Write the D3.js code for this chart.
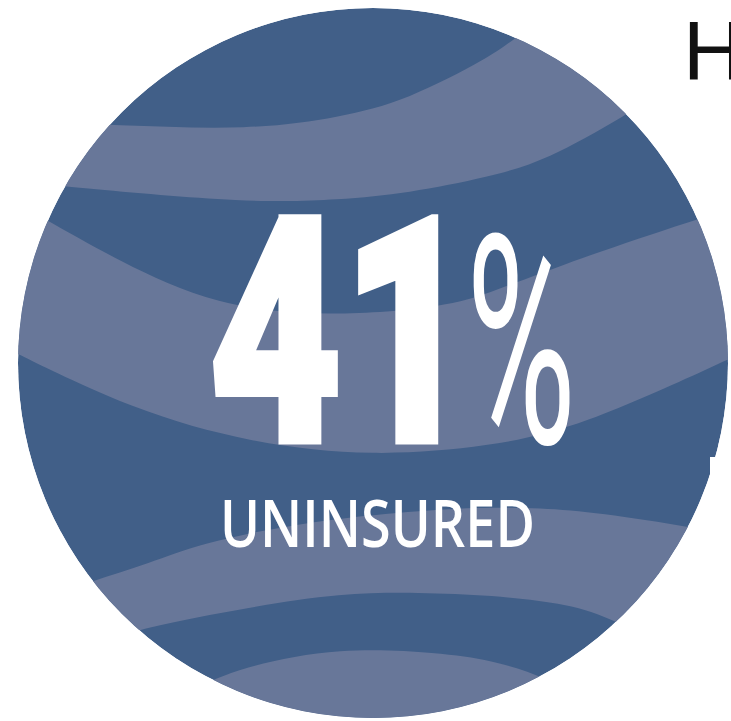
<!DOCTYPE html>
<html>
<head>
<meta charset="utf-8">
<script src="https://cdn.jsdelivr.net/npm/d3@7"></script>
<style>
  html, body { margin: 0; padding: 0; background: #ffffff; }
  svg { display: block; }
</style>
</head>
<body>
<svg id="chart" width="731" height="721"></svg>
<script>
// ---- data (circle-relative units: 0..100 across the disc's bounding box) ----
const headline = "41";
const headlineUnit = "%";
const label = "UNINSURED";
const sideTitle = "H";

// stripe boundaries (top to bottom), each a wavy line across the disc
const boundaryA = [[-2.5,15.9],[14.1,16.5],[32.7,17.2],[45.4,15.4],[54.8,13.0],[66.5,6.9],[69.7,4.5],[76.3,-0.4],[82.0,-5.4]];
const boundaryB = [[-2.5,24.2],[7.3,25.2],[32.7,27.5],[45.4,27.0],[54.8,26.1],[66.5,23.8],[74.5,21.4],[85.2,15.4],[94.6,9.4]];
const boundaryC = [[-2.5,26.2],[4.5,30.1],[13.9,35.5],[28.0,42.1],[43.9,43.5],[60.4,42.1],[66.5,40.1],[79.2,35.2],[95.1,29.9],[104.5,27.0]];
const boundaryD = [[-5.4,46.1],[0.3,48.9],[16.2,56.6],[32.7,61.3],[50.0,63.2],[66.5,61.8],[79.2,59.0],[98.9,50.0],[104.5,47.5]];
const boundaryE = [[3.1,83.4],[10.1,80.8],[18.6,78.2],[25.6,75.4],[39.7,72.5],[53.8,71.0],[65.1,70.3],[73.5,70.4],[82.0,71.1],[94.6,73.1],[104.5,74.9]];
const boundaryF = [[8.7,90.4],[17.6,87.2],[32.7,84.4],[45.4,82.4],[56.6,82.3],[66.5,82.7],[77.7,83.9],[84.1,86.2],[91.8,90.4]];
const boundaryG = [[18.6,100.3],[24.2,96.1],[31.3,92.8],[45.4,90.0],[59.4,90.8],[66.5,91.8],[74.5,94.2],[82.0,98.9]];
const boundaryBottom = [[82.0,106],[18.6,106]];

// light bands: pairs of [upper boundary, lower boundary]
const lightBands = [
  [boundaryA, boundaryB],
  [boundaryC, boundaryD],
  [boundaryE, boundaryF],
  [boundaryG, null]
];

const colors = { dark: "#415f88", light: "#687799", text: "#ffffff", title: "#111111" };

// ---- drawing ----
const svg = d3.select("#chart");
const x = d3.scaleLinear().domain([0, 100]).range([18, 728]);
const y = d3.scaleLinear().domain([0, 100]).range([8, 718]);
const r = (x(100) - x(0)) / 2;

const defs = svg.append("defs");
defs.append("clipPath").attr("id", "disc")
  .append("circle").attr("cx", x(50)).attr("cy", y(50)).attr("r", r);

const g = svg.append("g").attr("clip-path", "url(#disc)");
g.append("circle").attr("cx", x(50)).attr("cy", y(50)).attr("r", r).attr("fill", colors.dark);

const line = d3.line().x(d => x(d[0])).y(d => y(d[1])).curve(d3.curveBasis);

lightBands.forEach(([upper, lower]) => {
  const top = line(upper);
  let bottom;
  if (lower) {
    bottom = line(lower.slice().reverse());
  } else {
    bottom = d3.line().x(d => x(d[0])).y(d => y(d[1]))(boundaryBottom);
  }
  const d = top + "L" + bottom.slice(1) + "Z";
  g.append("path").attr("d", d).attr("fill", colors.light);
});

// big number
svg.append("text")
  .attr("x", 209).attr("y", 441)
  .attr("font-family", "Roboto, 'Liberation Sans', sans-serif")
  .attr("font-weight", 900)
  .attr("font-size", 314)
  .attr("textLength", 266)
  .attr("lengthAdjust", "spacingAndGlyphs")
  .attr("fill", colors.text)
  .attr("stroke", colors.text)
  .attr("stroke-width", 7)
  .attr("stroke-linejoin", "miter")
  .text(headline);

svg.append("text")
  .attr("x", 466).attr("y", 443)
  .attr("font-family", "Roboto, 'Liberation Sans', sans-serif")
  .attr("font-weight", 400)
  .attr("font-size", 292)
  .attr("textLength", 110)
  .attr("lengthAdjust", "spacingAndGlyphs")
  .attr("fill", colors.text)
  .text(headlineUnit);

svg.append("text")
  .attr("x", 220).attr("y", 547)
  .attr("font-family", "'Open Sans', 'Noto Sans', sans-serif")
  .attr("font-weight", 600)
  .attr("font-size", 66)
  .attr("textLength", 315)
  .attr("lengthAdjust", "spacingAndGlyphs")
  .attr("fill", colors.text)
  .text(label);

// partial title cut off at the right edge
svg.append("text")
  .attr("x", 683).attr("y", 80)
  .attr("font-family", "'Liberation Sans', 'Open Sans', sans-serif")
  .attr("font-size", 84)
  .attr("fill", colors.title)
  .text(sideTitle);

// white notch at right edge
svg.append("rect")
  .attr("x", 710).attr("y", 457).attr("width", 21).attr("height", 264)
  .attr("fill", "#ffffff");
</script>
</body>
</html>
